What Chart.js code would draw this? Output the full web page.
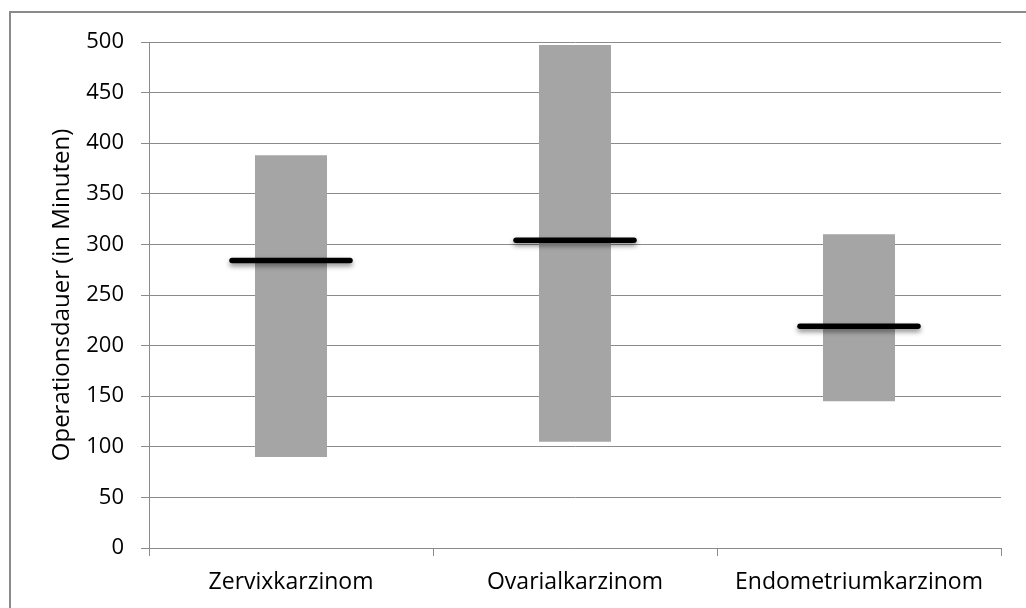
<!DOCTYPE html>
<html lang="de">
<head>
<meta charset="utf-8">
<title>Operationsdauer</title>
<script src="https://cdn.jsdelivr.net/npm/chart.js@4.4.1/dist/chart.umd.min.js"></script>
<style>
  html, body { margin: 0; padding: 0; background: #fff; overflow: hidden; }
  #wrap { position: relative; width: 1026px; height: 608px; }
</style>
</head>
<body>
<div id="wrap"><canvas id="c" width="1026" height="608"></canvas></div>
<script>
// Operationsdauer je Karzinomart: Spannweite (min–max) und Median, in Minuten
const categories = ['Zervixkarzinom', 'Ovarialkarzinom', 'Endometriumkarzinom'];
const minValues = [90, 105, 145];
const maxValues = [388, 497, 310];
const medianValues = [284, 304, 219];
const yTicks = [0, 50, 100, 150, 200, 250, 300, 350, 400, 450, 500];

const FONT = "'Open Sans', 'DejaVu Sans', sans-serif";
const GRID = '#8a8a8a';

// outer frame of the chart object (extends past the right and bottom edges)
const framePlugin = {
  id: 'frame',
  beforeDraw(chart) {
    const ctx = chart.ctx;
    ctx.save();
    ctx.fillStyle = '#fff';
    ctx.fillRect(0, 0, chart.width, chart.height);
    ctx.strokeStyle = '#8a8a8a';
    ctx.lineWidth = 2;
    ctx.strokeRect(10, 12, chart.width + 20, chart.height + 20);
    ctx.restore();
  }
};

// rounded caps and a soft drop shadow for the median markers
const medianStylePlugin = {
  id: 'medianStyle',
  beforeDatasetDraw(chart, args) {
    if (chart.data.datasets[args.index].isMedian) {
      const ctx = chart.ctx;
      ctx.save();
      ctx.lineCap = 'round';
      ctx.shadowColor = 'rgba(0,0,0,0.45)';
      ctx.shadowBlur = 5;
      ctx.shadowOffsetX = 0;
      ctx.shadowOffsetY = 3;
    }
  },
  afterDatasetDraw(chart, args) {
    if (chart.data.datasets[args.index].isMedian) {
      chart.ctx.restore();
    }
  }
};

const ranges = minValues.map((lo, i) => [lo, maxValues[i]]);

new Chart(document.getElementById('c'), {
  type: 'bar',
  data: {
    labels: categories,
    datasets: [
      {
        type: 'line',
        label: 'Median',
        isMedian: true,
        data: medianValues,
        showLine: false,
        pointStyle: 'line',
        pointRadius: 59,
        pointHoverRadius: 59,
        pointBorderWidth: 5.5,
        pointHoverBorderWidth: 5.5,
        pointBorderColor: '#000',
        pointBackgroundColor: 'rgba(0,0,0,0)',
        clip: false,
        order: 0
      },
      {
        label: 'Spannweite',
        data: ranges,
        backgroundColor: '#a5a5a5',
        borderWidth: 0,
        barPercentage: 0.2535,
        categoryPercentage: 1,
        order: 1
      }
    ]
  },
  options: {
    responsive: false,
    animation: false,
    events: [],
    layout: {
      autoPadding: false,
      padding: { top: 42, right: 25, left: 0, bottom: 0 }
    },
    plugins: {
      legend: { display: false },
      tooltip: { enabled: false }
    },
    scales: {
      x: {
        offset: true,
        grid: {
          offset: true,
          drawOnChartArea: false,
          drawTicks: true,
          tickLength: 8,
          color: GRID,
          lineWidth: 1
        },
        border: { color: GRID, width: 1 },
        ticks: {
          color: '#000',
          padding: 13,
          maxRotation: 0,
          font: { family: FONT, size: 23 }
        },
        afterFit(scale) {
          scale.height = 60;
          scale.paddingLeft = 0;
          scale.paddingRight = 0;
        }
      },
      y: {
        min: 0,
        max: 500,
        afterBuildTicks(scale) {
          scale.ticks = yTicks.map(v => ({ value: v }));
        },
        grid: {
          color: GRID,
          lineWidth: 1,
          tickLength: 8,
          drawTicks: true
        },
        border: { color: GRID, width: 1 },
        ticks: {
          color: '#000',
          padding: 17,
          font: { family: FONT, size: 22 }
        },
        title: {
          display: true,
          text: 'Operationsdauer (in Minuten)',
          color: '#000',
          padding: { top: 48, bottom: 0 },
          font: { family: FONT, size: 24 }
        },
        afterFit(scale) {
          scale.width = 149;
          scale.paddingTop = 0;
          scale.paddingBottom = 0;
        }
      }
    }
  },
  plugins: [framePlugin, medianStylePlugin]
});
</script>
</body>
</html>
